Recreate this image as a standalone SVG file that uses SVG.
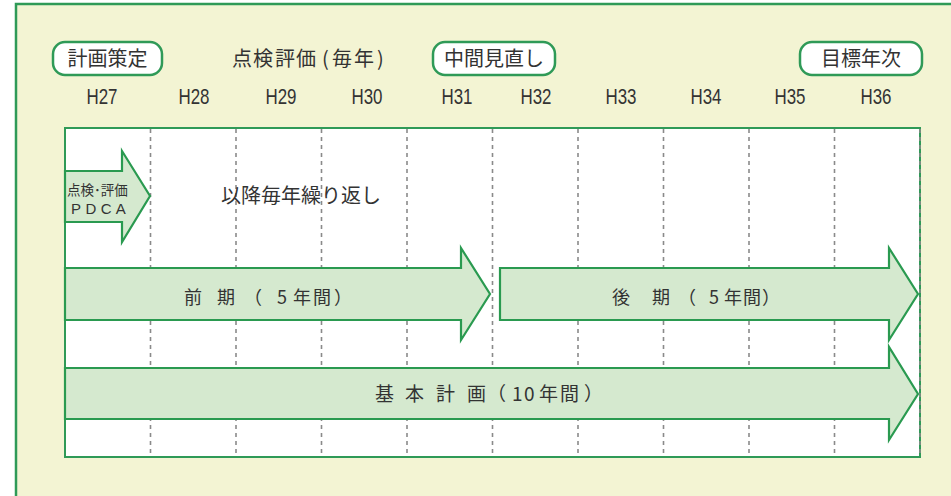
<svg xmlns="http://www.w3.org/2000/svg" width="951" height="496" viewBox="0 0 951 496">
<style>
.bg{fill:#f3f4d3;stroke:#2f9a57;stroke-width:2.5}
.inner{fill:#ffffff;stroke:#2f9a57;stroke-width:2}
.grid{stroke:#8a8a8a;stroke-width:1.6;stroke-dasharray:4 4;fill:none}
.arrow{fill:#d5e9cf;stroke:#2a9a50;stroke-width:2.2;stroke-linejoin:miter}
.pill{fill:#ffffff;stroke:#2f9a57;stroke-width:2.5}
.t{font-family:"Liberation Sans","Noto Sans CJK JP",sans-serif;fill:#333333}
.j{font-family:"Noto Sans CJK JP",sans-serif;fill:#333333}
.yr{font-size:22px;text-anchor:middle}
</style>
<rect class="bg" x="16" y="4" width="945" height="500"/>
<g id="timeline-box">
<rect class="inner" x="65" y="128" width="855" height="329"/>
</g>
<g id="gridlines">
<line class="grid" x1="150.5" y1="129" x2="150.5" y2="456"/>
<line class="grid" x1="236" y1="129" x2="236" y2="456"/>
<line class="grid" x1="321.5" y1="129" x2="321.5" y2="456"/>
<line class="grid" x1="407" y1="129" x2="407" y2="456"/>
<line class="grid" x1="492.5" y1="129" x2="492.5" y2="456"/>
<line class="grid" x1="578" y1="129" x2="578" y2="456"/>
<line class="grid" x1="663.5" y1="129" x2="663.5" y2="456"/>
<line class="grid" x1="749" y1="129" x2="749" y2="456"/>
<line class="grid" x1="834.5" y1="129" x2="834.5" y2="456"/>
<line class="grid" x1="920" y1="129" x2="920" y2="456"/>
</g>
<g id="milestones">
<g id="plan">
<rect class="pill" x="53" y="42" width="109" height="33" rx="12"/>
<text class="j" x="107.5" y="66" font-size="20" text-anchor="middle">計画策定</text>
</g>
<g id="eval">
<text class="j" font-size="20" y="66" x="232 253 275 296 322 332 354 377">点検評価(毎年)</text>
</g>
<g id="midreview">
<rect class="pill" x="433" y="42" width="122" height="33" rx="12"/>
<text class="j" x="494" y="66" font-size="20" text-anchor="middle">中間見直し</text>
</g>
<g id="target">
<rect class="pill" x="800" y="42" width="122" height="33" rx="12"/>
<text class="j" x="861" y="66" font-size="20" text-anchor="middle">目標年次</text>
</g>
</g>
<g id="years">
<text class="t yr" x="102" y="104" textLength="31" lengthAdjust="spacingAndGlyphs">H27</text>
<text class="t yr" x="194" y="104" textLength="31" lengthAdjust="spacingAndGlyphs">H28</text>
<text class="t yr" x="281" y="104" textLength="31" lengthAdjust="spacingAndGlyphs">H29</text>
<text class="t yr" x="367" y="104" textLength="31" lengthAdjust="spacingAndGlyphs">H30</text>
<text class="t yr" x="457" y="104" textLength="31" lengthAdjust="spacingAndGlyphs">H31</text>
<text class="t yr" x="536" y="104" textLength="31" lengthAdjust="spacingAndGlyphs">H32</text>
<text class="t yr" x="621" y="104" textLength="31" lengthAdjust="spacingAndGlyphs">H33</text>
<text class="t yr" x="706" y="104" textLength="31" lengthAdjust="spacingAndGlyphs">H34</text>
<text class="t yr" x="790" y="104" textLength="31" lengthAdjust="spacingAndGlyphs">H35</text>
<text class="t yr" x="876" y="104" textLength="31" lengthAdjust="spacingAndGlyphs">H36</text>
</g>
<g id="pdca">
<polygon class="arrow" points="65,171 122,171 122,151 150,196 122,242 122,222 65,222"/>
<text class="j" x="67" y="195" font-size="13.5">点検･評価</text>
<text class="t" x="71" y="214" font-size="15" letter-spacing="4.4">PDCA</text>
</g>
<g id="repeat">
<text class="j" x="221" y="203" font-size="20">以降毎年繰り返し</text>
</g>
<g id="first-half">
<polygon class="arrow" points="65,268 461,268 461,248 490,294 461,340 461,320 65,320"/>
<text class="j" font-size="18" y="304" x="184 217 244 277 293 313 334">前期（5年間）</text>
</g>
<g id="second-half">
<polygon class="arrow" points="500,268 889,268 889,248 918,294 889,340 889,320 500,320"/>
<text class="j" font-size="18" y="304" x="612 652 678 709 724 743 762">後期（5年間）</text>
</g>
<g id="basic-plan">
<polygon class="arrow" points="65,368 889,368 889,347 918,394 889,440 889,419 65,419"/>
<text class="j" font-size="19" y="401" x="375 405 436 467 487 512 524 539 560 584">基本計画（10年間）</text>
</g>
</svg>
